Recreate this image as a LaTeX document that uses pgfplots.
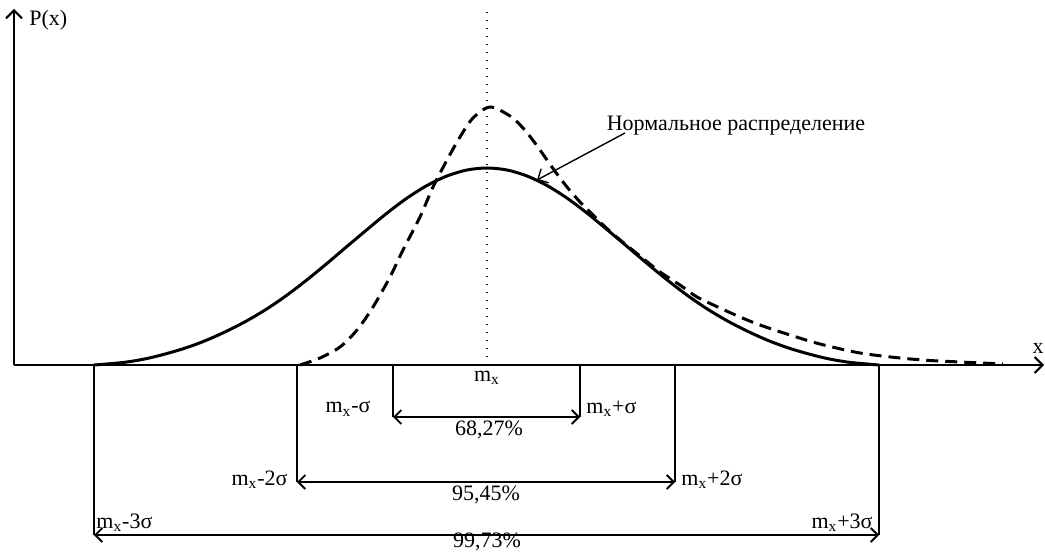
\documentclass[border=0pt]{standalone}
\usepackage{fontspec}
\setmainfont{Liberation Serif}
\usepackage{pgfplots}
\pgfplotsset{compat=1.18}
\usetikzlibrary{arrows.meta}
\begin{document}
\fontsize{11pt}{13pt}\selectfont
\begin{tikzpicture}
\begin{axis}[name=ax, x=0.5pt, y=0.5pt, xmin=0, xmax=1045, ymin=-188, ymax=365,
  hide axis, clip=false, anchor=south west, at={(0,0)}]
% normal distribution (solid)
\addplot[black, line width=1.5pt, smooth] coordinates {
(94,0) (107,1) (127,3) (147,6.5) (167,11.5) (187,17.5) (207,25) (227,34)
(247,44.3) (267,56.2) (287,69.9) (307,85.2) (327,101.6) (347,118.6) (367,135.4)
(387,151.9) (407,166.9) (427,179.5) (447,189.0) (467,195.0) (487,197)
(507,195.0) (527,189.0) (547,179.5) (567,166.9) (587,151.9) (607,135.4)
(627,118.6) (647,101.6) (667,85.2) (687,69.9) (707,56.2) (727,44.3) (747,34)
(767,25) (787,17.5) (807,11.5) (827,6.5) (847,3) (867,1) (879,0)};
% skewed distribution (dashed)
\addplot[black, line width=1.5pt, smooth, dash pattern=on 6pt off 3.5pt] coordinates {
(300,0) (320,7) (340,18) (357,35) (373,58) (390,88) (403,115) (420,148)
(433,178) (447,205) (460,228) (473,247) (490,258) (510,249) (523,237)
(535,222) (547,205) (557,191) (567,178) (580,163) (590,153) (600,143)
(613,131) (630,117) (645,105) (660,93) (680,80) (697,68) (720,57) (740,48)
(760,40) (790,30) (820,21) (860,12) (900,7) (930,4.5) (960,3) (1003,1)};
% axes
\draw[line width=1pt, -{Straight Barb[length=4pt,width=8pt]}] (axis cs:14,0) -- (axis cs:14,356);
\draw[line width=1pt, -{Straight Barb[length=4pt,width=8pt]}] (axis cs:14,0) -- (axis cs:1044,0);
\node[anchor=west, inner sep=0pt] at (axis cs:29,345) {P(x)};
\node[anchor=east, inner sep=0pt] at (axis cs:1044,17) {x};
% mean line
\draw[line width=0.6pt, dash pattern=on 0.6pt off 3.4pt] (axis cs:487,0) -- (axis cs:487,358);
% drop lines
\draw[line width=0.9pt] (axis cs:393,0) -- (axis cs:393,-52);
\draw[line width=0.9pt] (axis cs:580,0) -- (axis cs:580,-52);
\draw[line width=0.9pt] (axis cs:297,0) -- (axis cs:297,-117);
\draw[line width=0.9pt] (axis cs:675,0) -- (axis cs:675,-117);
\draw[line width=0.9pt] (axis cs:94,0) -- (axis cs:94,-170);
\draw[line width=0.9pt] (axis cs:879,0) -- (axis cs:879,-170);
% interval arrows
\draw[line width=0.9pt, {Straight Barb[length=3.5pt,width=7pt]}-{Straight Barb[length=3.5pt,width=7pt]}] (axis cs:393,-52) -- (axis cs:580,-52);
\draw[line width=0.9pt, {Straight Barb[length=3.5pt,width=7pt]}-{Straight Barb[length=3.5pt,width=7pt]}] (axis cs:297,-117) -- (axis cs:675,-117);
\draw[line width=0.9pt, {Straight Barb[length=3.5pt,width=7pt]}-{Straight Barb[length=3.5pt,width=7pt]}] (axis cs:94,-170) -- (axis cs:879,-170);
% labels
\node[inner sep=0pt] at (axis cs:487,-13) {m\textsubscript{x}};
\node[anchor=east, inner sep=0pt] at (axis cs:371,-44) {m\textsubscript{x}-σ};
\node[anchor=west, inner sep=0pt] at (axis cs:586,-44) {m\textsubscript{x}+σ};
\node[inner sep=0pt] at (axis cs:489,-65) {68,27\%};
\node[anchor=east, inner sep=0pt] at (axis cs:288,-115) {m\textsubscript{x}-2σ};
\node[anchor=west, inner sep=0pt] at (axis cs:681,-115) {m\textsubscript{x}+2σ};
\node[inner sep=0pt] at (axis cs:486,-130) {95,45\%};
\node[anchor=west, inner sep=0pt] at (axis cs:96,-158) {m\textsubscript{x}-3σ};
\node[anchor=east, inner sep=0pt] at (axis cs:873,-158) {m\textsubscript{x}+3σ};
\node[inner sep=0pt] at (axis cs:487,-177) {99,73\%};
% annotation
\node[inner sep=0pt] at (axis cs:736,239) {Нормальное распределение};
\draw[line width=0.7pt, -{Straight Barb[length=4pt,width=8pt]}] (axis cs:625,232) -- (axis cs:537,185);
\end{axis}
\pgfresetboundingbox
\path (ax.south west) rectangle (ax.north east);
\end{tikzpicture}
\end{document}
